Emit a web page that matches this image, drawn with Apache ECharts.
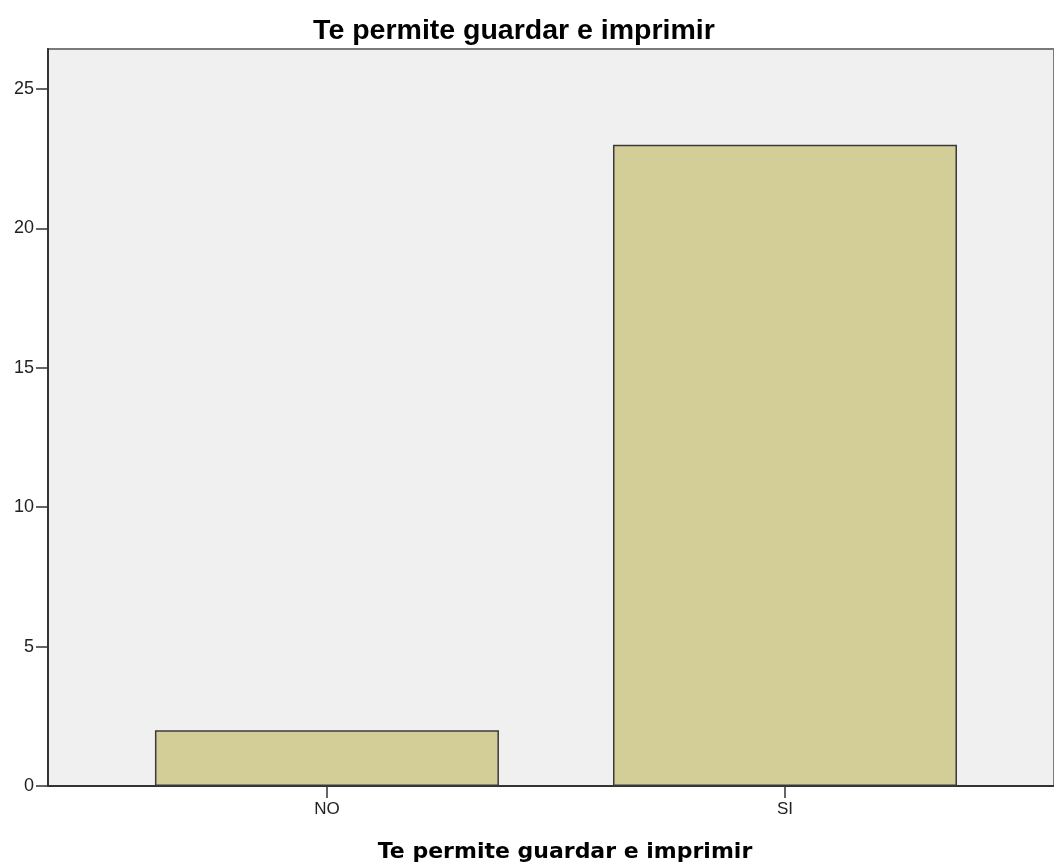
<!DOCTYPE html>
<html>
<head>
<meta charset="utf-8">
<script src="https://cdn.jsdelivr.net/npm/echarts@6/dist/echarts.min.js"></script>
<style>
  html, body { margin: 0; padding: 0; background: #fff; }
  #chart { width: 1054px; height: 868px; }
</style>
</head>
<body>
<div id="chart"></div>
<script>
const categories = ['NO', 'SI'];
const counts = [2, 23];
const yTicks = [0, 5, 10, 15, 20, 25];
const chartTitle = 'Te permite guardar e imprimir';
const axisTitle = 'Te permite guardar e imprimir';

const barColor = '#d3cd97';
const edgeColor = '#3a3a3a';

function buildChart() {
  const chart = echarts.init(document.getElementById('chart'));

  const options = {
    backgroundColor: '#ffffff',
    animation: false,
    title: [
      {
        text: chartTitle,
        left: 509,
        top: 12,
        textAlign: 'center',
        textStyle: {
          fontFamily: 'Liberation Sans',
          fontWeight: 'bold',
          fontSize: 28.5,
          color: '#000',
        },
      },
      {
        text: axisTitle,
        left: 560,
        top: 836,
        textAlign: 'center',
        textStyle: {
          fontFamily: 'DejaVu Sans',
          fontWeight: 'bold',
          fontSize: 22,
          color: '#000',
        },
      },
    ],
    grid: {
      left: 48,
      right: 0,
      top: 49,
      bottom: 82,
      show: true,
      backgroundColor: '#f0f0f0',
      borderColor: '#7a7a7a',
      borderWidth: 2,
    },
    xAxis: {
      type: 'value',
      min: -0.609,
      max: 1.5873,
      splitLine: { show: false },
      axisLine: { show: true, onZero: false, lineStyle: { color: '#333', width: 2 } },
      axisTick: {
        show: true,
        customValues: [0, 1],
        length: 12,
        lineStyle: { color: '#333', width: 1.5 },
      },
      axisLabel: {
        customValues: [0, 1],
        formatter: v => categories[Math.round(v)] || '',
        fontFamily: 'Liberation Sans',
        fontSize: 17,
        color: '#222',
        margin: 15,
      },
    },
    yAxis: {
      type: 'value',
      min: 0,
      max: 26.43,
      splitLine: { show: false },
      axisLine: { show: true, onZero: false, lineStyle: { color: '#333', width: 2 } },
      axisTick: {
        show: true,
        customValues: yTicks,
        length: 12,
        lineStyle: { color: '#333', width: 1.5 },
      },
      axisLabel: {
        customValues: yTicks,
        fontFamily: 'Liberation Sans',
        fontSize: 18,
        color: '#222',
        margin: 14,
      },
    },
    series: [
      {
        type: 'bar',
        data: categories.map((c, i) => [i, counts[i]]),
        barWidth: 344,
        itemStyle: {
          color: barColor,
          borderColor: edgeColor,
          borderWidth: 1.5,
        },
      },
    ],
  };

  chart.setOption(options);
  return chart;
}

buildChart();
</script>
</body>
</html>
